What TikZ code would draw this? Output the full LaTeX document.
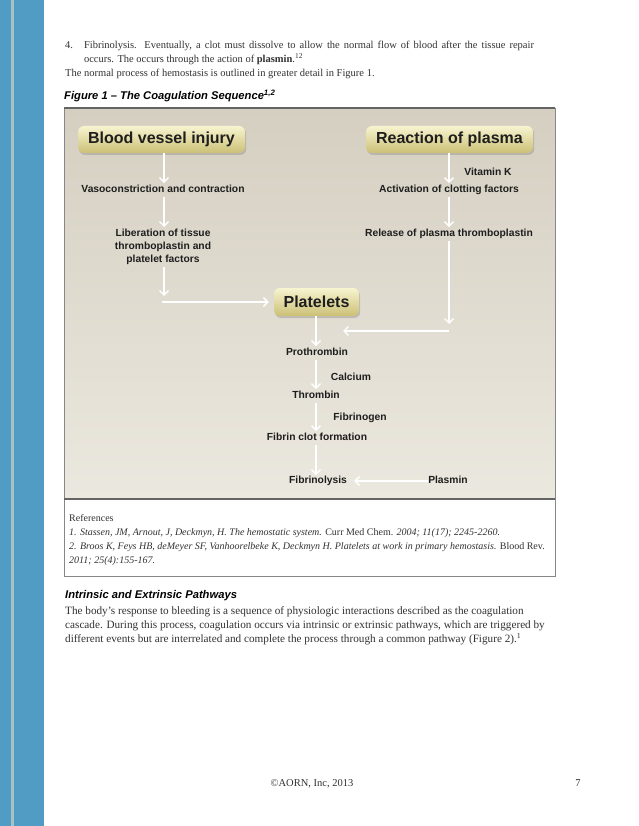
\documentclass[tikz,border=0pt]{standalone}
\usepackage{fontspec}
\setmainfont{Liberation Serif}
\setsansfont{Liberation Sans}
\usetikzlibrary{arrows.meta,shadows}

\definecolor{barblue}{RGB}{80,156,196}
\definecolor{barline}{RGB}{168,194,196}
\definecolor{bodytext}{RGB}{50,50,50}
\definecolor{figtop}{RGB}{213,207,193}
\definecolor{figbot}{RGB}{235,232,223}
\definecolor{boxtop}{RGB}{247,244,208}
\definecolor{boxbot}{RGB}{204,192,118}
\definecolor{framegray}{RGB}{135,135,135}
\definecolor{framedark}{RGB}{100,100,100}
\definecolor{labeltext}{RGB}{30,30,30}

\tikzset{
 bodyline/.style={anchor=base west, inner sep=0pt, font=\fontsize{10.5}{12}\selectfont, text=bodytext},
 paraline/.style={anchor=base west, inner sep=0pt, font=\fontsize{11.2}{13}\selectfont, text=bodytext},
 refline/.style={anchor=base west, inner sep=0pt, font=\fontsize{10}{12}\selectfont, text=bodytext},
 bodymid/.style={anchor=base, inner sep=0pt, font=\fontsize{10.5}{12}\selectfont, text=bodytext},
 headline/.style={anchor=base west, inner sep=0pt, font=\sffamily\bfseries\itshape\fontsize{11.2}{13}\selectfont, text=black},
 titlebox/.style={rounded corners=6pt, top color=boxtop, bottom color=boxbot,
   drop shadow={opacity=0.35, shadow xshift=1.2pt, shadow yshift=-2pt},
   minimum width=167pt, minimum height=27pt, inner sep=0pt,
   font=\sffamily\bfseries\fontsize{16}{18}\selectfont, text=labeltext},
 lbl/.style={font=\sffamily\bfseries\fontsize{10.3}{13}\selectfont, text=labeltext,
   inner sep=2pt, text height=7.5pt, text depth=2pt},
 lblmulti/.style={font=\sffamily\bfseries\fontsize{10.3}{13}\selectfont, text=labeltext,
   inner sep=2pt, align=center},
 flow/.style={draw=white, line width=1.4pt, -{Straight Barb[length=4.5pt,width=9pt]}},
}

\begin{document}
\begin{tikzpicture}[x=1pt,y=-1pt]
\useasboundingbox (0,0) rectangle (638,826);
\fill[white] (0,0) rectangle (638,826);
% left bar
\fill[barblue] (0,0) rectangle (44,826);
\fill[barline] (11,0) rectangle (13.5,826);

% body text top
\node[bodyline] (n4) at (65,48.5) {4.};
\node[bodyline] (l1) at (83.8,48.5) {\makebox[450pt][s]{Fibrinolysis. Eventually, a clot must dissolve to allow the normal flow of blood after the tissue repair}};
\node[bodyline] (l2) at (83.8,62.5) {occurs. The occurs through the action of \textbf{plasmin}.\textsuperscript{12}};
\node[bodyline] (l3) at (65,76.5) {The normal process of hemostasis is outlined in greater detail in Figure 1.};
\node[headline] (figtitle) at (64,99.5) {Figure 1 – The Coagulation Sequence\textsuperscript{1,2}};

% figure panel
\fill[top color=figtop, bottom color=figbot] (64,108) rectangle (555,499);
\draw[framegray, line width=0.8pt] (64,108) rectangle (555,499);
\draw[framedark, line width=1.6pt] (64,108) -- (555,108);
% reference box
\fill[white] (64,499) rectangle (555,576);
\draw[framegray, line width=0.8pt] (64,499) rectangle (555,576);
\draw[framedark, line width=1.4pt] (64,499) -- (555,499);

% diagram nodes
\node[titlebox] (injury) at (161.5,139.5) {Blood vessel injury};
\node[titlebox] (plasma) at (449.5,139.5) {Reaction of plasma};
\node[titlebox, minimum width=85pt, minimum height=28pt] (plat) at (316.5,302) {Platelets};

\node[lbl] (vaso) at (163,190) {Vasoconstriction and contraction};
\node[lblmulti, anchor=north] (lib) at (163,227) {Liberation of tissue\\thromboplastin and\\platelet factors};
\node[lbl] (vitk) at (488,173) {Vitamin K};
\node[lbl] (act) at (449,190) {Activation of clotting factors};
\node[lbl] (rel) at (449,234) {Release of plasma thromboplastin};
\node[lbl] (pro) at (317,353) {Prothrombin};
\node[lbl] (cal) at (351,378) {Calcium};
\node[lbl] (thr) at (316,396) {Thrombin};
\node[lbl] (fbg) at (360,418) {Fibrinogen};
\node[lbl] (fcf) at (317,438) {Fibrin clot formation};
\node[lbl] (fly) at (318,481) {Fibrinolysis};
\node[lbl] (pls) at (448,481) {Plasmin};

\coordinate (c1) at (164,296);
\coordinate (c2) at (162,302);
\coordinate (c3) at (449,324);
\coordinate (c4) at (449,331);
\coordinate (c5) at (343,331);

% connectors
\draw[flow] (injury.south -| 164,0) -- (vaso.north -| 164,0);
\draw[flow] (vaso.south -| 164,0) -- (lib.north -| 164,0);
\draw[flow] (lib.south -| 164,0) -- (c1);
\draw[flow] (c2) -- ([xshift=-5pt]plat.west);
\draw[flow] (plasma.south -| 449,0) -- (act.north -| 449,0);
\draw[flow] (act.south -| 449,0) -- (rel.north -| 449,0);
\draw[flow] (rel.south -| 449,0) -- (c3);
\draw[flow] (c4) -- (c5);
\draw[flow] (plat.south -| 316,0) -- (pro.north -| 316,0);
\draw[flow] (pro.south -| 316,0) -- (thr.north -| 316,0);
\draw[flow] (thr.south -| 316,0) -- (fcf.north -| 316,0);
\draw[flow] (fcf.south -| 316,0) -- ([yshift=-1pt]fly.north -| 316,0);
\draw[flow] ([xshift=2pt]pls.west) -- ([xshift=5pt]fly.east);

% references
\node[refline] (r0) at (69,521.5) {References};
\node[refline] (r1) at (69,535.5) {\textit{1. Stassen, JM, Arnout, J, Deckmyn, H. The hemostatic system.} Curr Med Chem. \textit{2004; 11(17); 2245-2260.}};
\node[refline] (r2) at (69,549.5) {\textit{2. Broos K, Feys HB, deMeyer SF, Vanhoorelbeke K, Deckmyn H. Platelets at work in primary hemostasis.} Blood Rev.};
\node[refline] (r3) at (69,563.5) {\textit{2011; 25(4):155-167.}};

% intrinsic section
\node[headline] (h2) at (65,598.5) {Intrinsic and Extrinsic Pathways};
\node[paraline] (p1) at (65,614.5) {The body’s response to bleeding is a sequence of physiologic interactions described as the coagulation};
\node[paraline] (p2) at (65,628.5) {cascade. During this process, coagulation occurs via intrinsic or extrinsic pathways, which are triggered by};
\node[paraline] (p3) at (65,642.5) {different events but are interrelated and complete the process through a common pathway (Figure 2).\textsuperscript{1}};

% footer
\node[bodymid] (foot) at (312,786.5) {©AORN, Inc, 2013};
\node[bodymid] (pg) at (578,786.5) {7};
\end{tikzpicture}
\end{document}
